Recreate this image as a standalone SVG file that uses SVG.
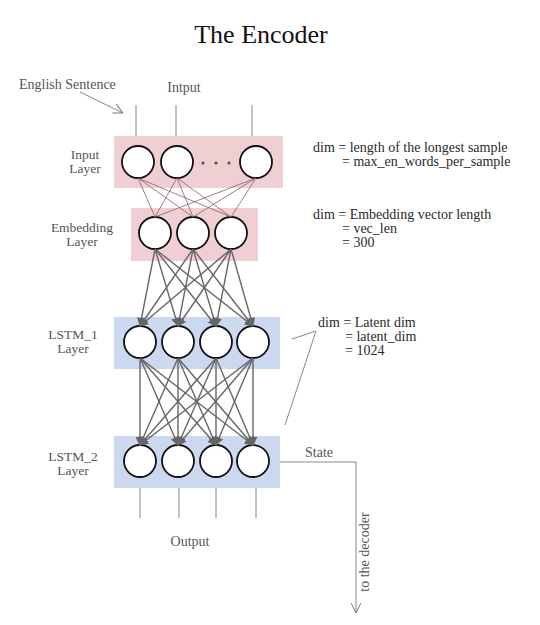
<svg xmlns="http://www.w3.org/2000/svg" width="540" height="625" viewBox="0 0 540 625">
<style>
text{font-family:"Liberation Serif","Times New Roman",serif}
.title{font-size:26px;fill:#111;text-anchor:middle}
.lbl{font-size:13.5px;fill:#555;text-anchor:middle}
.note{font-size:14px;fill:#2a2a2a}
.io{font-size:14px;fill:#555}
.pink{fill:#efcfd2}
.blue{fill:#cbd8f0}
.node{fill:#fff;stroke:#111;stroke-width:1.8}
.thin{stroke:#8a6060;stroke-width:0.8;fill:none}
.arr{stroke:#666;stroke-width:1.4;fill:none;marker-end:url(#ah)}
.gl{stroke:#888;stroke-width:1;fill:none}
</style>
<defs>
<marker id="ah" viewBox="0 0 10 10" refX="9" refY="5" markerWidth="9" markerHeight="9" markerUnits="userSpaceOnUse" orient="auto">
<path d="M0,0 L10,5 L0,10 z" fill="#666"/>
</marker>
<marker id="open" viewBox="0 0 10 10" refX="10" refY="5" markerWidth="10" markerHeight="10" markerUnits="userSpaceOnUse" orient="auto">
<path d="M0,0 L10,5 L0,10" fill="none" stroke="#777" stroke-width="1"/>
</marker>
</defs>
<rect width="540" height="625" fill="#fff"/>
<text class="title" x="261" y="43">The Encoder</text>

<g id="labels">
<text class="io" x="19" y="89">English Sentence</text>
<text class="io" x="184" y="92" text-anchor="middle">Intput</text>
<text class="lbl" x="85" y="159">Input</text>
<text class="lbl" x="85" y="173">Layer</text>
<text class="lbl" x="82" y="232">Embedding</text>
<text class="lbl" x="82" y="246">Layer</text>
<text class="lbl" x="73" y="339">LSTM_1</text>
<text class="lbl" x="73" y="353">Layer</text>
<text class="lbl" x="73" y="461">LSTM_2</text>
<text class="lbl" x="73" y="475">Layer</text>
<text class="io" x="190" y="546" text-anchor="middle">Output</text>
<text class="io" x="305" y="457">State</text>
<text class="io" x="369" y="552" text-anchor="middle" transform="rotate(-90 369 552)">to the decoder</text>
</g>

<g id="notes">
<text class="note" x="313" y="152">dim = length of the longest sample</text>
<text class="note" x="342" y="166">= max_en_words_per_sample</text>
<text class="note" x="313" y="219">dim = Embedding vector length</text>
<text class="note" x="342" y="233">= vec_len</text>
<text class="note" x="342" y="247">= 300</text>
<text class="note" x="318" y="327">dim = Latent dim</text>
<text class="note" x="345" y="341">= latent_dim</text>
<text class="note" x="345" y="355">= 1024</text>
</g>

<g id="input-layer">
<rect class="pink" x="114" y="136" width="169" height="52"/>
<circle class="node" cx="138" cy="162" r="16"/>
<circle class="node" cx="177" cy="162" r="16"/>
<circle class="node" cx="256" cy="162" r="16"/>
<circle cx="203" cy="163" r="1.6" fill="#555"/>
<circle cx="216" cy="163" r="1.6" fill="#555"/>
<circle cx="229" cy="163" r="1.6" fill="#555"/>
</g>

<g id="embedding-layer">
<rect class="pink" x="131" y="208" width="127" height="53"/>
<circle class="node" cx="155" cy="233" r="16"/>
<circle class="node" cx="193" cy="233" r="16"/>
<circle class="node" cx="231" cy="233" r="16"/>
</g>

<g id="lstm1-layer">
<rect class="blue" x="114" y="317" width="166" height="52"/>
<circle class="node" cx="140" cy="342" r="16"/>
<circle class="node" cx="178" cy="342" r="16"/>
<circle class="node" cx="216" cy="342" r="16"/>
<circle class="node" cx="253" cy="342" r="16"/>
</g>

<g id="lstm2-layer">
<rect class="blue" x="114" y="436" width="166" height="52"/>
<circle class="node" cx="140" cy="461" r="16"/>
<circle class="node" cx="178" cy="461" r="16"/>
<circle class="node" cx="216" cy="461" r="16"/>
<circle class="node" cx="253" cy="461" r="16"/>
</g>

<g id="connectors">
<path class="gl" d="M80,92 L123,113" marker-end="url(#open)"/>
<path class="gl" d="M136,105 V136 M176,105 V136 M252,105 V136"/>
<path class="thin" d="M138,178 L155,217 M138,178 L193,217 M138,178 L231,217 M177,178 L155,217 M177,178 L193,217 M177,178 L231,217 M256,178 L155,217 M256,178 L193,217 M256,178 L231,217"/>
<g>
<line class="arr" x1="155" y1="249" x2="140" y2="326"/>
<line class="arr" x1="155" y1="249" x2="178" y2="326"/>
<line class="arr" x1="155" y1="249" x2="216" y2="326"/>
<line class="arr" x1="155" y1="249" x2="253" y2="326"/>
<line class="arr" x1="193" y1="249" x2="140" y2="326"/>
<line class="arr" x1="193" y1="249" x2="178" y2="326"/>
<line class="arr" x1="193" y1="249" x2="216" y2="326"/>
<line class="arr" x1="193" y1="249" x2="253" y2="326"/>
<line class="arr" x1="231" y1="249" x2="140" y2="326"/>
<line class="arr" x1="231" y1="249" x2="178" y2="326"/>
<line class="arr" x1="231" y1="249" x2="216" y2="326"/>
<line class="arr" x1="231" y1="249" x2="253" y2="326"/>
</g>
<g>
<line class="arr" x1="140" y1="358" x2="140" y2="445"/>
<line class="arr" x1="140" y1="358" x2="178" y2="445"/>
<line class="arr" x1="140" y1="358" x2="216" y2="445"/>
<line class="arr" x1="140" y1="358" x2="253" y2="445"/>
<line class="arr" x1="178" y1="358" x2="140" y2="445"/>
<line class="arr" x1="178" y1="358" x2="178" y2="445"/>
<line class="arr" x1="178" y1="358" x2="216" y2="445"/>
<line class="arr" x1="178" y1="358" x2="253" y2="445"/>
<line class="arr" x1="216" y1="358" x2="140" y2="445"/>
<line class="arr" x1="216" y1="358" x2="178" y2="445"/>
<line class="arr" x1="216" y1="358" x2="216" y2="445"/>
<line class="arr" x1="216" y1="358" x2="253" y2="445"/>
<line class="arr" x1="253" y1="358" x2="140" y2="445"/>
<line class="arr" x1="253" y1="358" x2="178" y2="445"/>
<line class="arr" x1="253" y1="358" x2="216" y2="445"/>
<line class="arr" x1="253" y1="358" x2="253" y2="445"/>
</g>
<path class="gl" d="M140,488 V518 M179,488 V518 M216,488 V518 M256,488 V518"/>
<path class="gl" d="M292,339 L316,331 L285,425"/>
<path class="gl" d="M280,462 H356 V613" marker-end="url(#open)"/>
</g>
</svg>
